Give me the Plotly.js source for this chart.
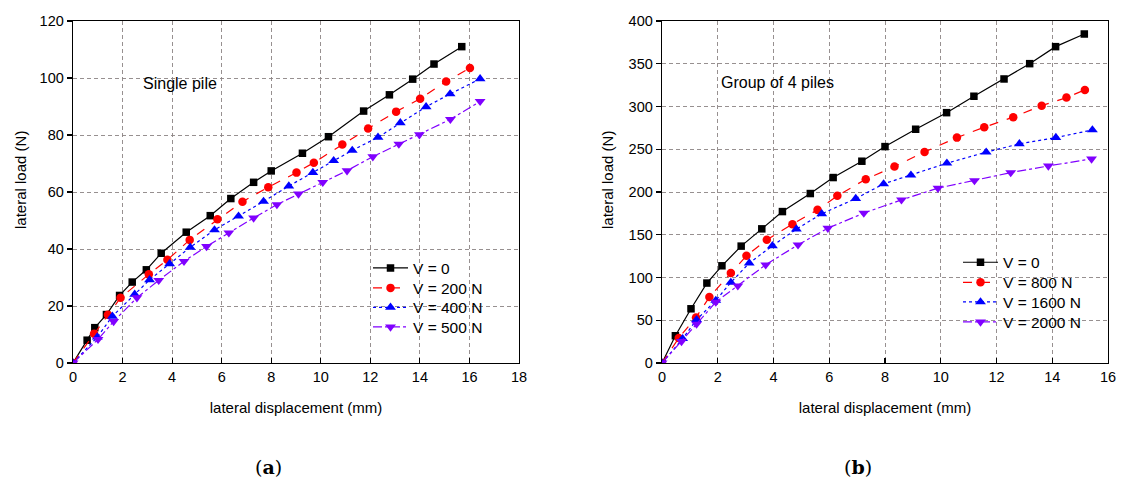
<!DOCTYPE html>
<html>
<head>
<meta charset="utf-8">
<script src="https://cdn.plot.ly/plotly-3.0.1.min.js"></script>
<style>
  html, body { margin: 0; padding: 0; background: #ffffff; }
  #chart { width: 1121px; height: 480px; }
</style>
</head>
<body>
<div id="chart"></div>
<script>
// ---- Data: (a) single pile ----
const aLabels = ["V = 0", "V = 200 N", "V = 400 N", "V = 500 N"];
const aX_V0   = [0, 0.57, 0.88, 1.35, 1.88, 2.39, 2.96, 3.56, 4.57, 5.54, 6.37, 7.29, 8.0, 9.26, 10.31, 11.73, 12.77, 13.71, 14.57, 15.69];
const aY_V0   = [0, 8.0, 12.4, 17.0, 23.7, 28.4, 32.7, 38.5, 45.9, 51.7, 57.7, 63.4, 67.4, 73.6, 79.4, 88.4, 94.1, 99.6, 104.9, 111.0];
const aX_V200 = [0, 0.85, 1.41, 1.92, 3.06, 3.81, 4.71, 5.83, 6.84, 7.88, 9.02, 9.72, 10.87, 11.91, 13.04, 14.01, 15.06, 16.02];
const aY_V200 = [0, 10.3, 16.9, 22.9, 31.1, 36.2, 43.2, 50.4, 56.6, 61.7, 66.8, 70.3, 76.7, 82.3, 88.2, 92.7, 98.8, 103.5];
const aX_V400 = [0, 0.98, 1.59, 2.49, 3.09, 3.90, 4.73, 5.71, 6.68, 7.69, 8.71, 9.68, 10.52, 11.27, 12.31, 13.21, 14.25, 15.22, 16.43];
const aY_V400 = [0, 9.1, 16.4, 24.1, 29.2, 34.8, 40.6, 46.7, 51.5, 56.7, 62.1, 66.8, 71.0, 74.6, 79.2, 84.3, 89.9, 94.4, 99.7];
const aX_V500 = [0, 1.01, 1.64, 2.58, 3.46, 4.48, 5.39, 6.29, 7.29, 8.23, 9.10, 10.08, 11.06, 12.10, 13.15, 13.98, 15.23, 16.43];
const aY_V500 = [0, 8.3, 14.6, 22.9, 29.0, 35.7, 40.9, 45.7, 50.9, 55.6, 59.3, 63.4, 67.5, 72.4, 76.8, 80.1, 85.5, 91.8];

// ---- Data: (b) group of 4 piles ----
const bLabels = ["V = 0", "V = 800 N", "V = 1600 N", "V = 2000 N"];
const bX_V0    = [0, 0.48, 1.04, 1.61, 2.15, 2.84, 3.58, 4.32, 5.32, 6.14, 7.17, 8.0, 9.10, 10.21, 11.19, 12.27, 13.19, 14.12, 15.15];
const bY_V0    = [0, 31.9, 63.4, 93.5, 113.7, 136.7, 156.9, 177.1, 198.2, 216.9, 236.0, 253.1, 273.4, 292.8, 312.0, 332.2, 350.1, 370.0, 384.8];
const bX_V800  = [0, 0.6, 1.22, 1.70, 2.47, 3.03, 3.76, 4.68, 5.58, 6.29, 7.31, 8.34, 9.42, 10.58, 11.56, 12.60, 13.62, 14.51, 15.17];
const bY_V800  = [0, 29.2, 53.3, 77.1, 105.2, 125.4, 144.1, 162.4, 179.1, 195.5, 215.0, 229.7, 246.9, 263.6, 275.8, 287.5, 301.0, 310.4, 319.4];
const bX_V1600 = [0, 0.74, 1.24, 1.93, 2.47, 3.13, 3.96, 4.82, 5.73, 6.95, 7.95, 8.93, 10.22, 11.63, 12.82, 14.13, 15.44];
const bY_V1600 = [0, 28.4, 50.6, 73.2, 94.2, 116.9, 137.1, 156.6, 174.5, 192.3, 209.5, 219.7, 233.7, 246.6, 256.3, 263.6, 272.6];
const bX_V2000 = [0, 0.70, 1.24, 1.93, 2.72, 3.72, 4.88, 5.95, 7.24, 8.59, 9.90, 11.21, 12.51, 13.86, 15.41];
const bY_V2000 = [0, 25.2, 45.6, 71.3, 90.3, 114.9, 138.2, 157.7, 175.3, 190.8, 204.5, 213.4, 222.7, 230.5, 238.7];

const xTitle = "lateral displacement (mm)";
const yTitle = "lateral load (N)";
const aNote = "Single pile";
const bNote = "Group of 4 piles";

// ---- Styles ----
const FONT = "Liberation Sans, Arial, sans-serif";
const styles = [
  {color: "#000000", dash: "solid",   symbol: "square",        size: 7.5},
  {color: "#ff0000", dash: "dash",    symbol: "circle",        size: 8.5},
  {color: "#0000ff", dash: "dot",     symbol: "triangle-up",   size: 9.5},
  {color: "#8000ff", dash: "dashdot", symbol: "triangle-down", size: 9.5}
];

function mk(x, y, name, s, xa, ya, leg) {
  return {
    x: x, y: y, name: name, type: "scatter", mode: "lines+markers",
    xaxis: xa, yaxis: ya, legend: leg,
    line: {color: s.color, dash: s.dash, width: 1.2},
    marker: {color: s.color, symbol: s.symbol, size: s.size, line: {width: 0}}
  };
}

const aXs = [aX_V0, aX_V200, aX_V400, aX_V500];
const aYs = [aY_V0, aY_V200, aY_V400, aY_V500];
const bXs = [bX_V0, bX_V800, bX_V1600, bX_V2000];
const bYs = [bY_V0, bY_V800, bY_V1600, bY_V2000];

const legNames = ["legend", "legend2", "legend3", "legend4", "legend5", "legend6", "legend7", "legend8"];
const traces = [];
for (let i = 0; i < 4; i++) traces.push(mk(aXs[i], aYs[i], aLabels[i], styles[i], "x", "y", legNames[i]));
for (let i = 0; i < 4; i++) traces.push(mk(bXs[i], bYs[i], bLabels[i], styles[i], "x2", "y2", legNames[4 + i]));

const W = 1121, H = 480;
const yDom = [1 - 363 / H, 1 - 21 / H];

function xAxis(dom, range, anchor) {
  return {
    domain: dom, range: range, anchor: anchor, dtick: 2, tick0: 0,
    showline: true, linecolor: "#000", linewidth: 1.3, mirror: true,
    ticks: "inside", ticklen: 5, tickwidth: 1.1, tickcolor: "#000",
    showgrid: true, gridcolor: "#8c8484", griddash: "4px,3px", gridwidth: 0.9,
    zeroline: false,
    tickfont: {family: FONT, size: 14.5, color: "#000"},
    title: {text: xTitle, font: {family: FONT, size: 15, color: "#000"}, standoff: 18}
  };
}
function yAxis(dom, range, dtick, anchor) {
  return {
    domain: dom, range: range, anchor: anchor, dtick: dtick, tick0: 0,
    showline: true, linecolor: "#000", linewidth: 1.3, mirror: true,
    ticks: "outside", ticklen: 5, tickwidth: 1.1, tickcolor: "#000",
    showgrid: true, gridcolor: "#8c8484", griddash: "4px,3px", gridwidth: 0.9,
    zeroline: false,
    tickfont: {family: FONT, size: 14.5, color: "#000"}
  };
}

const legendBase = {
  font: {family: FONT, size: 15.5, color: "#000"},
  bgcolor: "rgba(0,0,0,0)", borderwidth: 0,
  xanchor: "left", yanchor: "middle", itemwidth: 35
};
const aRowY = [268.3, 288.3, 307.7, 327.3];
const bRowY = [262.7, 282.7, 302.3, 322.3];

const layout = {
  width: W, height: H,
  margin: {l: 0, r: 0, t: 0, b: 0},
  paper_bgcolor: "#ffffff", plot_bgcolor: "#ffffff",
  showlegend: true,
  xaxis:  xAxis([73 / W, 519 / W], [0, 18], "y"),
  yaxis:  yAxis(yDom, [0, 120], 20, "x"),
  xaxis2: xAxis([662 / W, 1108 / W], [0, 16], "y2"),
  yaxis2: yAxis(yDom, [0, 400], 50, "x2"),
  annotations: [
    {text: yTitle, xref: "paper", yref: "paper", x: 20 / W, y: 1 - 180 / H, textangle: -90,
     xanchor: "center", yanchor: "middle", showarrow: false,
     font: {family: FONT, size: 15, color: "#000"}},
    {text: yTitle, xref: "paper", yref: "paper", x: 607 / W, y: 1 - 180 / H, textangle: -90,
     xanchor: "center", yanchor: "middle", showarrow: false,
     font: {family: FONT, size: 15, color: "#000"}},
    {text: aNote, xref: "x", yref: "y", x: 4.3, y: 97.9, showarrow: false,
     font: {family: FONT, size: 16, color: "#000"}},
    {text: bNote, xref: "x2", yref: "y2", x: 4.14, y: 327.9, showarrow: false,
     font: {family: FONT, size: 16, color: "#000"}},
    {text: "(<b>a</b>)", xref: "paper", yref: "paper", x: 268 / W, y: 1 - 467 / H,
     xanchor: "center", yanchor: "middle", showarrow: false,
     font: {family: "DejaVu Serif, serif", size: 19, color: "#000"}},
    {text: "(<b>b</b>)", xref: "paper", yref: "paper", x: 858 / W, y: 1 - 467 / H,
     xanchor: "center", yanchor: "middle", showarrow: false,
     font: {family: "DejaVu Serif, serif", size: 19, color: "#000"}}
  ]
};
for (let i = 0; i < 4; i++) {
  layout[legNames[i]] = Object.assign({}, legendBase, {x: 368 / W, y: 1 - aRowY[i] / H});
  layout[legNames[4 + i]] = Object.assign({}, legendBase, {x: 958 / W, y: 1 - bRowY[i] / H});
}

Plotly.newPlot("chart", traces, layout, {staticPlot: true, displayModeBar: false});
</script>
</body>
</html>
